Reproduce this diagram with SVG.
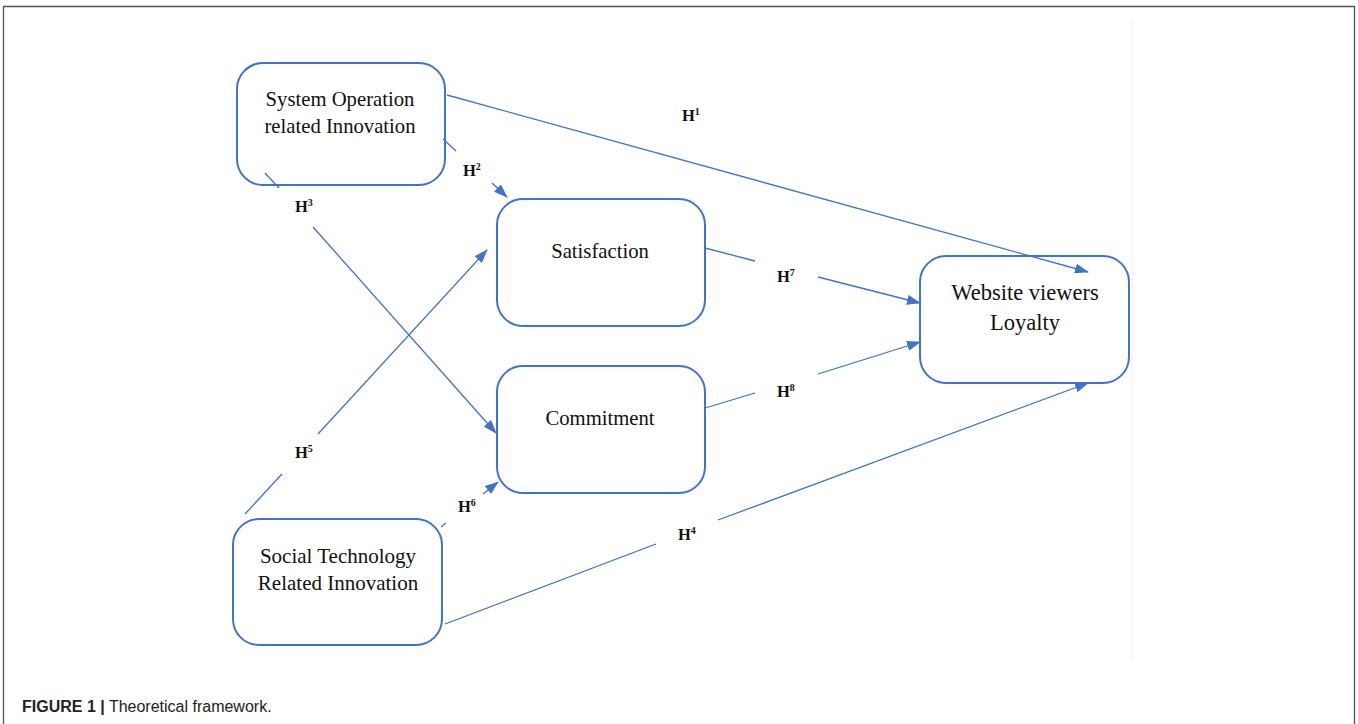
<svg xmlns="http://www.w3.org/2000/svg" width="1358" height="724" viewBox="0 0 1358 724">
<style>
.node rect{fill:#fff;stroke:#4472C4;stroke-width:2}
.node text{font-family:"Liberation Serif","Times New Roman",serif;font-size:20.7px;fill:#111;text-anchor:middle}
.node text.big{font-size:22.5px}
.node text.mid{font-size:21px}
.conn line{stroke:#4472C4;stroke-width:1.3;fill:none}
.lbl{font-family:"Liberation Serif","Times New Roman",serif;font-size:16.5px;font-weight:bold;fill:#111}
.sup{font-size:10px}
.cap{font-family:"Liberation Sans",Arial,sans-serif;font-size:16px;fill:#222}
</style>
<defs>
<marker id="ah" markerWidth="14" markerHeight="10" refX="13" refY="5" orient="auto" markerUnits="userSpaceOnUse">
<path d="M0,0 L14,5 L0,10 Z" fill="#4472C4"/>
</marker>
</defs>
<rect x="0" y="0" width="1358" height="724" fill="#fff"/>
<path d="M3.5,730 L3.5,6.5 L1354.5,6.5 L1354.5,730" fill="none" stroke="#555" stroke-width="1.3"/>
<line x1="1132" y1="22" x2="1132" y2="660" stroke="#eef0f2" stroke-width="1"/>

<g id="node-system" class="node">
<rect x="237" y="63" width="208" height="122" rx="26"/>
<text x="340" y="106">System Operation</text>
<text x="340" y="133">related Innovation</text>
</g>
<g id="node-satisfaction" class="node">
<rect x="497" y="199" width="208" height="127" rx="26"/>
<text x="600" y="258">Satisfaction</text>
</g>
<g id="node-commitment" class="node">
<rect x="497" y="366" width="208" height="127" rx="26"/>
<text x="600" y="425">Commitment</text>
</g>
<g id="node-loyalty" class="node">
<rect x="920" y="256" width="209" height="127" rx="26"/>
<text class="big" x="1025" y="300">Website viewers</text>
<text class="big" x="1025" y="330">Loyalty</text>
</g>
<g id="node-social" class="node">
<rect x="233" y="519" width="209" height="126" rx="26"/>
<text class="mid" x="338" y="563">Social Technology</text>
<text class="mid" x="338" y="590">Related Innovation</text>
</g>

<g id="connectors" class="conn">
<line x1="447" y1="95" x2="1088" y2="272" marker-end="url(#ah)"/>
<line x1="443" y1="139" x2="456" y2="151"/>
<line x1="492" y1="183" x2="507" y2="197" marker-end="url(#ah)"/>
<line x1="265" y1="173" x2="279" y2="188"/>
<line x1="313" y1="227" x2="496" y2="433" marker-end="url(#ah)"/>
<line x1="245" y1="514" x2="282" y2="474"/>
<line x1="318" y1="434" x2="487" y2="250" marker-end="url(#ah)"/>
<line x1="441" y1="527" x2="446" y2="523"/>
<line x1="483" y1="494" x2="498" y2="482" marker-end="url(#ah)"/>
<line x1="705" y1="248" x2="755" y2="261"/>
<line x1="818" y1="277" x2="920" y2="303" marker-end="url(#ah)"/>
<line x1="705" y1="408" x2="755" y2="393"/>
<line x1="818" y1="374" x2="920" y2="342" marker-end="url(#ah)"/>
<line x1="445" y1="624" x2="656" y2="544"/>
<line x1="718" y1="520" x2="1088" y2="383" marker-end="url(#ah)"/>
</g>

<g id="labels">
<text class="lbl" x="682" y="121">H<tspan class="sup" dy="-6">1</tspan></text>
<text class="lbl" x="463" y="176">H<tspan class="sup" dy="-6">2</tspan></text>
<text class="lbl" x="295" y="212">H<tspan class="sup" dy="-6">3</tspan></text>
<text class="lbl" x="295" y="458">H<tspan class="sup" dy="-6">5</tspan></text>
<text class="lbl" x="458" y="512">H<tspan class="sup" dy="-6">6</tspan></text>
<text class="lbl" x="777" y="282">H<tspan class="sup" dy="-6">7</tspan></text>
<text class="lbl" x="777" y="397">H<tspan class="sup" dy="-6">8</tspan></text>
<text class="lbl" x="678" y="540">H<tspan class="sup" dy="-6">4</tspan></text>
</g>

<text class="cap" x="22" y="712"><tspan font-weight="bold">FIGURE 1 |</tspan> Theoretical framework.</text>
</svg>
